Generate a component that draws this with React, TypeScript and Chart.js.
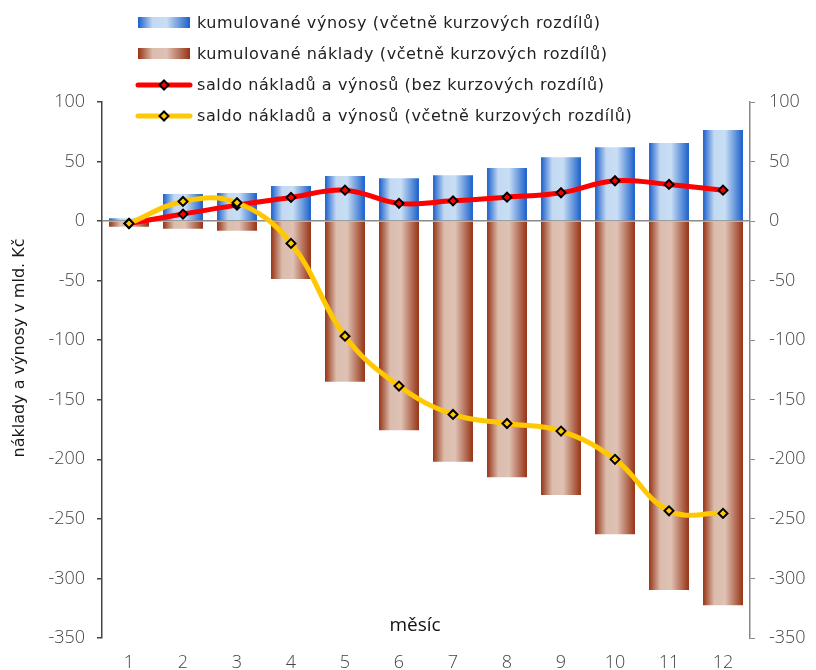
import React, { useEffect, useRef } from "react";
import { Chart, registerables } from "chart.js";

Chart.register(...registerables);

const months = ["1", "2", "3", "4", "5", "6", "7", "8", "9", "10", "11", "12"];
const revenues = [2.5, 22.7, 23.5, 29.4, 37.8, 36, 38.6, 44.5, 53.7, 62, 65.5, 76.4];
const costs = [-4.8, -6.4, -8.1, -48.7, -134.9, -175.5, -202, -215, -230, -262.8, -309.8, -322.4];
const balanceExFx = [-2, 5.9, 13.4, 19.9, 26, 14.9, 17, 20.1, 23.8, 33.9, 30.8, 26];
const balanceInclFx = [-2, 16.5, 15.4, -18.7, -96.6, -138.5, -162.3, -169.9, -176.3, -200, -243.2, -245.4];
const yMin = -350;
const yMax = 100;
const yStep = 50;

const legendLabels = [
  "kumulované výnosy (včetně kurzových rozdílů)",
  "kumulované náklady (včetně kurzových rozdílů)",
  "saldo nákladů a výnosů (bez kurzových rozdílů)",
  "saldo nákladů a výnosů (včetně kurzových rozdílů)",
];
const xTitle = "měsíc";
const yTitle = "náklady a výnosy v mld. Kč";

const BAR_PCT = 0.74;
const blueStops: [number, string][] = [
  [0, "#1a5fcb"],
  [0.28, "#c3d9f2"],
  [0.55, "#c8def4"],
  [1, "#1a5fcb"],
];
const brownStops: [number, string][] = [
  [0, "#963314"],
  [0.28, "#dbbcad"],
  [0.55, "#dfc2b4"],
  [1, "#963314"],
];

function barGradient(stops: [number, string][]) {
  return (c: any) => {
    const chart = c.chart;
    const x = chart.scales && chart.scales.x;
    if (!chart.chartArea || !x || c.dataIndex === undefined) return stops[1][1];
    const xc = x.getPixelForValue(c.dataIndex);
    const hw = ((x.right - x.left) / months.length) * BAR_PCT / 2;
    const g = chart.ctx.createLinearGradient(xc - hw, 0, xc + hw, 0);
    stops.forEach(([p, col]) => g.addColorStop(p, col));
    return g;
  };
}

function cssGradient(stops: [number, string][]) {
  return `linear-gradient(to right, ${stops.map(([p, c]) => `${c} ${p * 100}%`).join(", ")})`;
}

const titlesPlugin = {
  id: "titles",
  afterDraw(chart: any) {
    const { ctx, chartArea } = chart;
    ctx.save();
    ctx.fillStyle = "#111";
    ctx.textAlign = "center";
    ctx.textBaseline = "middle";
    ctx.font = '19px "Open Sans"';
    ctx.fillText(xTitle, (chartArea.left + chartArea.right) / 2 - 11, chartArea.bottom - 12);
    ctx.translate(20, (chartArea.top + chartArea.bottom) / 2 - 22);
    ctx.rotate(-Math.PI / 2);
    ctx.fillStyle = "#1a1a1a";
    ctx.font = '16px "DejaVu Sans"';
    ctx.fillText(yTitle, 0, 0);
    ctx.restore();
  },
};

function LineSwatch({ color }: { color: string }) {
  return (
    <svg width="58" height="14" style={{ display: "block" }}>
      <line x1="3" y1="7" x2="55" y2="7" stroke={color} strokeWidth="5" strokeLinecap="round" />
      <polygon points="29,2.5 33.5,7 29,11.5 24.5,7" fill={color} stroke="#000" strokeWidth="2" />
    </svg>
  );
}

export default function App() {
  const ref = useRef<HTMLCanvasElement | null>(null);

  useEffect(() => {
    if (!ref.current) return;
    const tickFont = { family: '"Open Sans"', size: 18, weight: "300" };
    const chart = new Chart(ref.current, {
      type: "bar",
      data: {
        labels: months,
        datasets: [
          {
            type: "line",
            label: legendLabels[3],
            data: balanceInclFx,
            borderColor: "#ffc800",
            backgroundColor: "#ffc800",
            borderWidth: 5,
            tension: 0.4,
            pointStyle: "rectRot",
            pointRadius: 4.5,
            pointBorderWidth: 2,
            pointBorderColor: "#000",
            pointBackgroundColor: "#ffc800",
            order: 0,
            yAxisID: "y",
          },
          {
            type: "line",
            label: legendLabels[2],
            data: balanceExFx,
            borderColor: "#ff0000",
            backgroundColor: "#ff0000",
            borderWidth: 5,
            tension: 0.4,
            pointStyle: "rectRot",
            pointRadius: 4.5,
            pointBorderWidth: 2,
            pointBorderColor: "#000",
            pointBackgroundColor: "#ff0000",
            order: 1,
            yAxisID: "y",
          },
          {
            type: "bar",
            label: legendLabels[0],
            data: revenues,
            backgroundColor: barGradient(blueStops) as any,
            borderWidth: 0,
            grouped: false,
            barPercentage: BAR_PCT,
            categoryPercentage: 1,
            order: 2,
            yAxisID: "y",
          },
          {
            type: "bar",
            label: legendLabels[1],
            data: costs,
            backgroundColor: barGradient(brownStops) as any,
            borderWidth: 0,
            grouped: false,
            barPercentage: BAR_PCT,
            categoryPercentage: 1,
            order: 3,
            yAxisID: "y",
          },
        ],
      },
      options: {
        responsive: false,
        animation: false,
        devicePixelRatio: 1,
        layout: { padding: { top: 102, left: 0, right: 0, bottom: 0 } },
        plugins: {
          legend: { display: false },
          tooltip: { enabled: false },
        },
        scales: {
          x: {
            offset: true,
            grid: { display: false, drawTicks: false },
            border: { display: false },
            ticks: { font: tickFont, color: "#444", padding: 14, maxRotation: 0 },
            afterFit: (s: any) => {
              s.height = 32;
            },
          },
          y: {
            position: "left",
            min: yMin,
            max: yMax,
            ticks: { stepSize: yStep, font: tickFont, color: "#444", padding: 12 },
            grid: {
              color: (c: any) => (c.tick && c.tick.value === 0 ? "#8a8a8a" : "rgba(0,0,0,0)"),
              lineWidth: 1.5,
              tickColor: "#444",
              tickLength: 5,
            },
            border: { color: "#444", width: 1.5 },
            afterFit: (s: any) => {
              s.width = 102;
            },
          },
          y2: {
            position: "right",
            min: yMin,
            max: yMax,
            ticks: { stepSize: yStep, font: tickFont, color: "#444", padding: 14 },
            grid: { drawOnChartArea: false, tickColor: "#888", tickLength: 5 },
            border: { color: "#888", width: 1.5 },
            afterFit: (s: any) => {
              s.width = 66;
            },
          },
        },
      },
      plugins: [titlesPlugin],
    } as any);
    return () => chart.destroy();
  }, []);

  const rowStyle: React.CSSProperties = {
    display: "flex",
    alignItems: "center",
    height: 31,
    whiteSpace: "nowrap",
  };
  const textStyle: React.CSSProperties = {
    fontFamily: '"DejaVu Sans"',
    fontSize: 16,
    letterSpacing: "0.6px",
    color: "#222",
    marginLeft: 4,
  };
  const barSwatch = (stops: [number, string][]): React.CSSProperties => ({
    width: 52,
    height: 11,
    marginLeft: 3,
    marginRight: 3,
    background: cssGradient(stops),
  });

  return (
    <div style={{ position: "fixed", left: 0, top: 0, width: 816, height: 670, background: "#fff" }}>
      <canvas ref={ref} width={816} height={670} style={{ display: "block" }} />
      <div style={{ position: "absolute", left: 135, top: 7 }}>
        <div style={rowStyle}>
          <div style={barSwatch(blueStops)} />
          <span style={textStyle}>{legendLabels[0]}</span>
        </div>
        <div style={rowStyle}>
          <div style={barSwatch(brownStops)} />
          <span style={textStyle}>{legendLabels[1]}</span>
        </div>
        <div style={rowStyle}>
          <LineSwatch color="#ff0000" />
          <span style={textStyle}>{legendLabels[2]}</span>
        </div>
        <div style={rowStyle}>
          <LineSwatch color="#ffc800" />
          <span style={textStyle}>{legendLabels[3]}</span>
        </div>
      </div>
    </div>
  );
}
